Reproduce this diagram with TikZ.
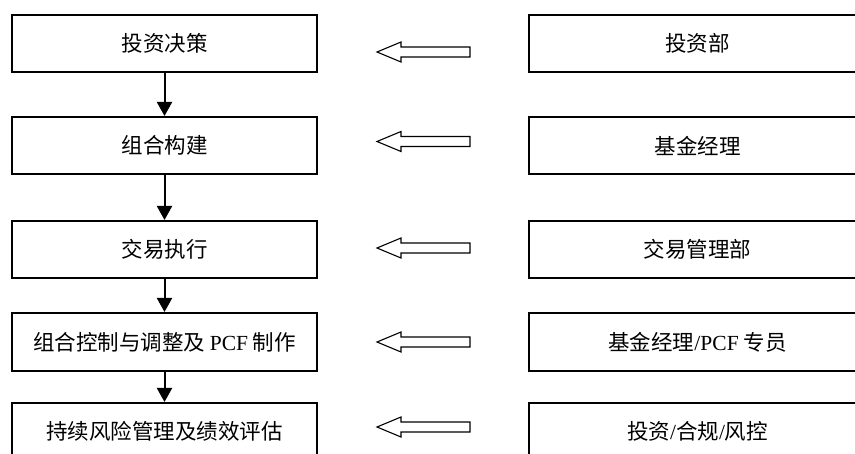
\documentclass[tikz,border=0pt]{standalone}
\usepackage{fontspec}
\setmainfont{Liberation Serif}
\newfontfamily\cjk{Noto Sans CJK SC}
\usetikzlibrary{arrows.meta}
\tikzset{
  leftbox/.style={draw,line width=2pt,minimum width=305pt,minimum height=57pt,inner sep=0pt,font=\fontsize{21.5}{24}\selectfont\cjk},
  rightbox/.style={draw,line width=2pt,minimum width=337pt,minimum height=57pt,inner sep=0pt,font=\fontsize{21.5}{24}\selectfont\cjk},
  flowarrow/.style={line width=2pt,-{Triangle[length=14pt,width=15pt]}},
  hollow/.style={draw,line width=1.1pt,line join=miter}
}
\newcommand\hollowarrow[1]{\draw[hollow] (#1) -- ++(24,-10) -- ++(0,5) -- ++(69,0) -- ++(0,10) -- ++(-69,0) -- ++(0,5) -- cycle;}
\begin{document}
\begin{tikzpicture}[x=1pt,y=-1pt]
\clip (0,0) rectangle (855,454);
\fill[white] (0,0) rectangle (855,454);
\node[leftbox] (l1) at (164.5,43.5) {投资决策};
\node[leftbox] (l2) at (164.5,145.5) {组合构建};
\node[leftbox] (l3) at (164.5,249.5) {交易执行};
\node[leftbox,minimum height=58pt] (l4) at (164.5,342) {组合控制与调整及 {\rmfamily PCF} 制作};
\node[leftbox] (l5) at (164.5,431.5) {持续风险管理及绩效评估};
\node[rightbox] (r1) at (697.5,43.5) {投资部};
\node[rightbox] (r2) at (697.5,145.5) {基金经理};
\node[rightbox] (r3) at (697.5,249.5) {交易管理部};
\node[rightbox,minimum height=58pt] (r4) at (697.5,342) {基金经理{\rmfamily/PCF} 专员};
\node[rightbox] (r5) at (697.5,431.5) {投资{\rmfamily/}合规{\rmfamily/}风控};
\coordinate (h1) at (377,52);
\coordinate (h2) at (377,141.5);
\coordinate (h3) at (377,248);
\coordinate (h4) at (377,342);
\coordinate (h5) at (377,427);
\hollowarrow{h1}
\hollowarrow{h2}
\hollowarrow{h3}
\hollowarrow{h4}
\hollowarrow{h5}
\draw[flowarrow] (l1) -- (l2);
\draw[flowarrow] (l2) -- (l3);
\draw[flowarrow] (l3) -- (l4);
\draw[flowarrow] (l4) -- (l5);
\end{tikzpicture}
\end{document}
